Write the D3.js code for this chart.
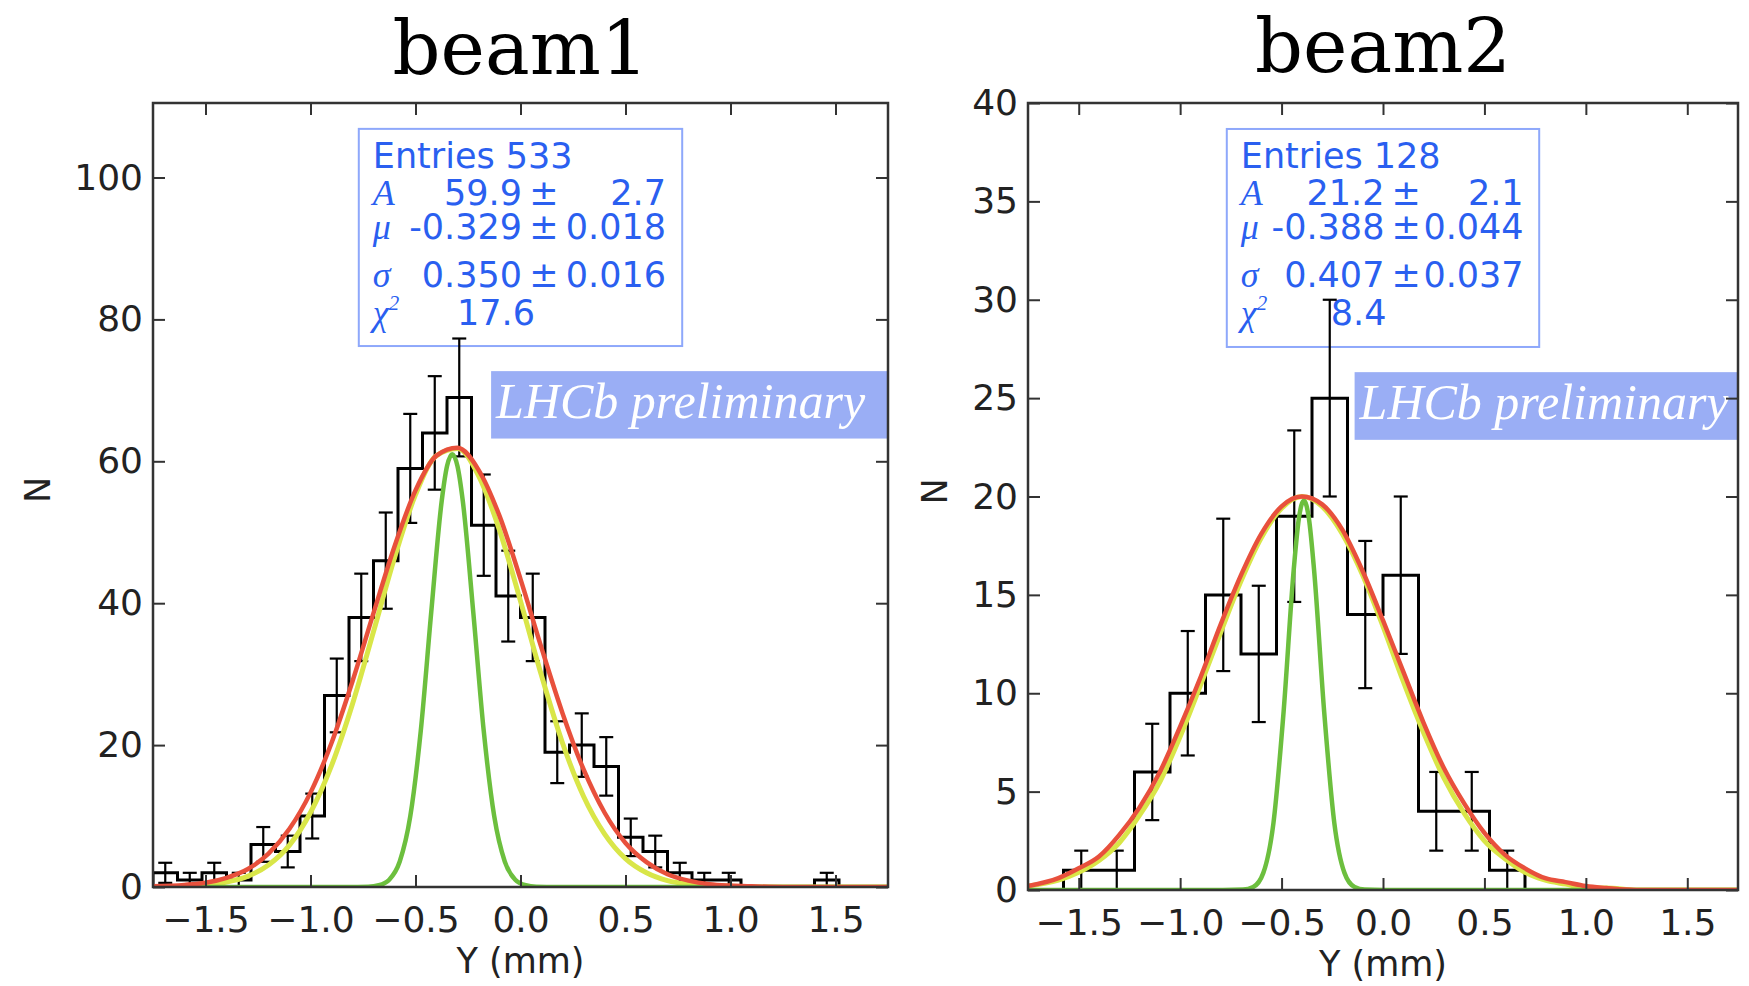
<!DOCTYPE html>
<html>
<head>
<meta charset="utf-8">
<script src="https://cdn.jsdelivr.net/npm/d3@7"></script>
<style>
body{margin:0;background:#fff}
svg text{font-family:"DejaVu Sans",sans-serif}
</style>
</head>
<body>
<div id="wrapper"></div>
<script>
// ---- data ----
const xRange = [-1.75, 1.75]
const xTicks = [-1.5, -1.0, -0.5, 0.0, 0.5, 1.0, 1.5]
const beam1YTicks = [0, 20, 40, 60, 80, 100]
const beam2YTicks = [0, 5, 10, 15, 20, 25, 30, 35, 40]

// bin contents (30 bins for beam1, 20 bins for beam2 over xRange)
const beam1Counts = [2,1,2,1,6,5,10,27,38,46,59,64,69,51,41,38,19,20,17,7,5,2,1,1,0,0,0,1,0,0]
const beam2Counts = [0,1,1,6,10,15,12,19,25,14,16,4,4,1,0,0,0,0,0,0]

// curve samples (x in mm, y in N)
const curveX = [-1.75,-1.6,-1.5,-1.4,-1.3,-1.2,-1.1,-1.0,-0.9,-0.8,-0.7,-0.6,-0.5,-0.4,-0.3,-0.2,-0.1,0.0,0.1,0.2,0.3,0.4,0.5,0.6,0.7,0.8,0.9,1.0,1.1,1.25,1.5,1.75]
const beam1Red    = [0.1,0.3,0.6,1.3,2.5,4.7,8.2,13.3,20.3,29.0,38.6,48.0,55.9,60.8,61.9,58.8,52.3,43.4,33.7,24.5,16.6,10.5,6.2,3.5,1.8,0.9,0.4,0.2,0.1,0,0,0]
const beam1Yellow = [0,0.1,0.3,0.7,1.5,3.1,5.9,10.5,17.1,25.8,36.0,46.4,55.3,60.8,61.8,58.0,50.3,40.3,29.8,20.3,12.8,7.5,4.0,2.0,0.9,0.4,0.2,0.1,0,0,0,0]
const beam2Red    = [0.2,0.6,1.1,1.7,2.8,4.2,6.0,8.3,10.8,13.5,16.0,18.1,19.5,20.0,19.6,18.3,16.2,13.7,11.1,8.5,6.2,4.4,2.9,1.8,1.1,0.6,0.4,0.2,0.1,0,0,0]
const beam2Yellow = [0.2,0.5,0.9,1.5,2.4,3.8,5.5,7.8,10.4,13.1,15.7,17.9,19.4,20.0,19.5,18.1,16.0,13.4,10.6,8.0,5.7,3.9,2.5,1.6,0.9,0.5,0.3,0.1,0.1,0,0,0]
const beam1GreenX = [-1.75,-0.825,-0.725,-0.675,-0.625,-0.575,-0.525,-0.475,-0.425,-0.375,-0.35,-0.325,-0.3,-0.275,-0.225,-0.175,-0.125,-0.075,-0.025,0.025,0.075,0.175,1.75]
const beam1Green  = [0,0,0.04,0.24,1.03,3.59,9.94,21.98,38.76,54.46,59.3,61,59.3,54.46,38.76,21.98,9.94,3.59,1.03,0.24,0.04,0,0]
const beam2GreenX = [-1.75,-0.79,-0.69,-0.64,-0.59,-0.54,-0.49,-0.44,-0.415,-0.39,-0.365,-0.34,-0.29,-0.24,-0.19,-0.14,-0.09,0.01,1.75]
const beam2Green  = [0,0,0.02,0.15,0.87,3.41,9.06,16.29,18.86,19.8,18.86,16.29,9.06,3.41,0.87,0.15,0.02,0,0]

// fit box text
const statSymbols = ["A", "\u03bc", "\u03c3"]
const beam1Stats = [["59.9","2.7"],["-0.329","0.018"],["0.350","0.016"]]
const beam2Stats = [["21.2","2.1"],["-0.388","0.044"],["0.407","0.037"]]
const beam1Entries = "533", beam2Entries = "128"
const beam1Chi2 = "17.6", beam2Chi2 = "8.4"

const colRed = "#e8503c", colYellow = "#d9e648", colGreen = "#6cbf3e"
const statBlue = "#2a5ff0"

const svg = d3.select("#wrapper").append("svg")
  .attr("width", 1749).attr("height", 986)

const panels = [
  {id:"p1", title:"beam1", x0:153, x1:888, y0:103, y1:887, yMax:110.5, yTicks:beam1YTicks,
   counts:beam1Counts, red:beam1Red, yellow:beam1Yellow, gx:beam1GreenX, green:beam1Green,
   stats:beam1Stats, entries:beam1Entries, chi2:beam1Chi2, chiDx:13, titleY:74, labelY:973, nX:50},
  {id:"p2", title:"beam2", x0:1028, x1:1738, y0:103, y1:890, yMax:40, yTicks:beam2YTicks,
   counts:beam2Counts, red:beam2Red, yellow:beam2Yellow, gx:beam2GreenX, green:beam2Green,
   stats:beam2Stats, entries:beam2Entries, chi2:beam2Chi2, chiDx:2, titleY:72, labelY:976, nX:947}
]

panels.forEach(p => {
  const x = d3.scaleLinear().domain(xRange).range([p.x0, p.x1])
  const y = d3.scaleLinear().domain([0, p.yMax]).range([p.y1, p.y0])
  const w = p.x1 - p.x0, h = p.y1 - p.y0
  const fx = f => p.x0 + f * w, fy = f => p.y0 + f * h

  svg.append("clipPath").attr("id", "clip" + p.id)
    .append("rect").attr("x", p.x0).attr("y", p.y0).attr("width", w).attr("height", h)

  // title
  svg.append("text").attr("x", (p.x0 + p.x1) / 2).attr("y", p.titleY)
    .attr("text-anchor", "middle").style("font-family", "'DejaVu Serif',serif")
    .style("font-size", "75px").text(p.title)

  // stat box
  const sb = svg.append("g")
  sb.append("rect").attr("x", fx(0.28)).attr("y", fy(0.033))
    .attr("width", fx(0.72) - fx(0.28)).attr("height", fy(0.31) - fy(0.033))
    .attr("fill", "#fff").attr("stroke", "#8ea8fb").attr("stroke-width", 2)
  const tx = fx(0.28) + 14, valR = fx(0.502), pmX = fx(0.512), errR = fx(0.698)
  const base = [fy(0.033) + 39, fy(0.033) + 76, fy(0.033) + 110, fy(0.033) + 158, fy(0.033) + 196]
  sb.append("text").attr("x", tx).attr("y", base[0]).attr("fill", statBlue)
    .style("font-size", "35px").text("Entries " + p.entries)
  p.stats.forEach((s, i) => {
    const by = base[i + 1]
    sb.append("text").attr("x", tx).attr("y", by).attr("fill", statBlue)
      .style("font-family", "'Liberation Serif',serif").style("font-style", "italic")
      .style("font-size", "36px").text(statSymbols[i])
    sb.append("text").attr("x", valR).attr("y", by).attr("text-anchor", "end")
      .attr("fill", statBlue).style("font-size", "35px").text(s[0])
    sb.append("text").attr("x", pmX).attr("y", by)
      .attr("fill", statBlue).style("font-size", "35px").text("\u00b1")
    sb.append("text").attr("x", errR).attr("y", by).attr("text-anchor", "end")
      .attr("fill", statBlue).style("font-size", "35px").text(s[1])
  })
  const chi = sb.append("text").attr("x", tx).attr("y", base[4]).attr("fill", statBlue)
    .style("font-family", "'Liberation Serif',serif").style("font-style", "italic")
    .style("font-size", "36px").text("\u03c7")
  chi.append("tspan").attr("dy", -15).style("font-size", "21px").text("2")
  sb.append("text").attr("x", valR + p.chiDx).attr("y", base[4]).attr("text-anchor", "end")
    .attr("fill", statBlue).style("font-size", "35px").text(p.chi2)

  // histogram
  const n = p.counts.length
  const edges = d3.range(n + 1).map(i => xRange[0] + i * (xRange[1] - xRange[0]) / n)
  const steps = [[edges[0], 0]].concat(p.counts.map((c, i) => [edges[i], c]), [[edges[n], 0]])
  const plot = svg.append("g").attr("clip-path", `url(#clip${p.id})`)
  plot.append("path").datum(steps)
    .attr("d", d3.line().x(d => x(d[0])).y(d => y(d[1])).curve(d3.curveStepAfter))
    .attr("fill", "none").attr("stroke", "#000").attr("stroke-width", 3)

  const bins = p.counts.map((c, i) => ({c:c, xc:(edges[i] + edges[i + 1]) / 2, e:Math.sqrt(c)}))
    .filter(d => d.c > 0)
  const eb = plot.append("g").attr("stroke", "#000").attr("stroke-width", 2.2)
  eb.selectAll(".v").data(bins).enter().append("line")
    .attr("x1", d => x(d.xc)).attr("x2", d => x(d.xc))
    .attr("y1", d => y(d.c - d.e)).attr("y2", d => y(d.c + d.e))
  ;[-1, 1].forEach(sgn => {
    eb.selectAll(".c" + sgn).data(bins).enter().append("line")
      .attr("x1", d => x(d.xc) - 7).attr("x2", d => x(d.xc) + 7)
      .attr("y1", d => y(d.c + sgn * d.e)).attr("y2", d => y(d.c + sgn * d.e))
  })

  // curves
  const line = d3.line().x(d => x(d[0])).y(d => y(d[1])).curve(d3.curveMonotoneX)
  plot.append("path").datum(d3.zip(curveX, p.yellow)).attr("d", line)
    .attr("fill", "none").attr("stroke", colYellow).attr("stroke-width", 5)
  plot.append("path").datum(d3.zip(p.gx, p.green)).attr("d", line)
    .attr("fill", "none").attr("stroke", colGreen).attr("stroke-width", 4.5)
  plot.append("path").datum(d3.zip(curveX, p.red)).attr("d", line)
    .attr("fill", "none").attr("stroke", colRed).attr("stroke-width", 4.5)

  // LHCb label
  svg.append("rect").attr("x", fx(0.46)).attr("y", fy(0.342))
    .attr("width", fx(1) - fx(0.46)).attr("height", fy(0.428) - fy(0.342))
    .attr("fill", "#9aaef5")
  svg.append("text").attr("x", fx(0.46) + 5).attr("y", fy(0.402))
    .attr("fill", "#fff").style("font-family", "'Liberation Serif',serif")
    .style("font-style", "italic").style("font-size", "50px").text("LHCb preliminary")

  // axes
  const styleAxis = g => {
    g.select(".domain").remove()
    g.selectAll(".tick line").attr("stroke", "#333").attr("stroke-width", 2)
    g.selectAll(".tick text").attr("fill", "#222").style("font-size", "36px")
  }
  svg.append("g").attr("transform", `translate(0,${p.y1})`)
    .call(d3.axisBottom(x).tickValues(xTicks).tickFormat(d3.format(".1f"))
      .tickSize(-12).tickSizeOuter(0).tickPadding(19)).call(styleAxis)
  svg.append("g").attr("transform", `translate(0,${p.y0})`)
    .call(d3.axisTop(x).tickValues(xTicks).tickFormat("").tickSize(-12).tickSizeOuter(0)).call(styleAxis)
  svg.append("g").attr("transform", `translate(${p.x0},0)`)
    .call(d3.axisLeft(y).tickValues(p.yTicks).tickSize(-12).tickSizeOuter(0).tickPadding(10)).call(styleAxis)
  svg.append("g").attr("transform", `translate(${p.x1},0)`)
    .call(d3.axisRight(y).tickValues(p.yTicks).tickFormat("").tickSize(-12).tickSizeOuter(0)).call(styleAxis)

  svg.append("rect").attr("x", p.x0).attr("y", p.y0).attr("width", w).attr("height", h)
    .attr("fill", "none").attr("stroke", "#333").attr("stroke-width", 2.5)

  // axis titles
  svg.append("text").attr("x", (p.x0 + p.x1) / 2).attr("y", p.labelY)
    .attr("text-anchor", "middle").attr("fill", "#222").style("font-size", "35px").text("Y (mm)")
  svg.append("text").attr("transform", `translate(${p.nX},${(p.y0 + p.y1) / 2 - 5}) rotate(-90)`)
    .attr("text-anchor", "middle").attr("fill", "#222").style("font-size", "35px").text("N")
})
</script>
</body>
</html>
